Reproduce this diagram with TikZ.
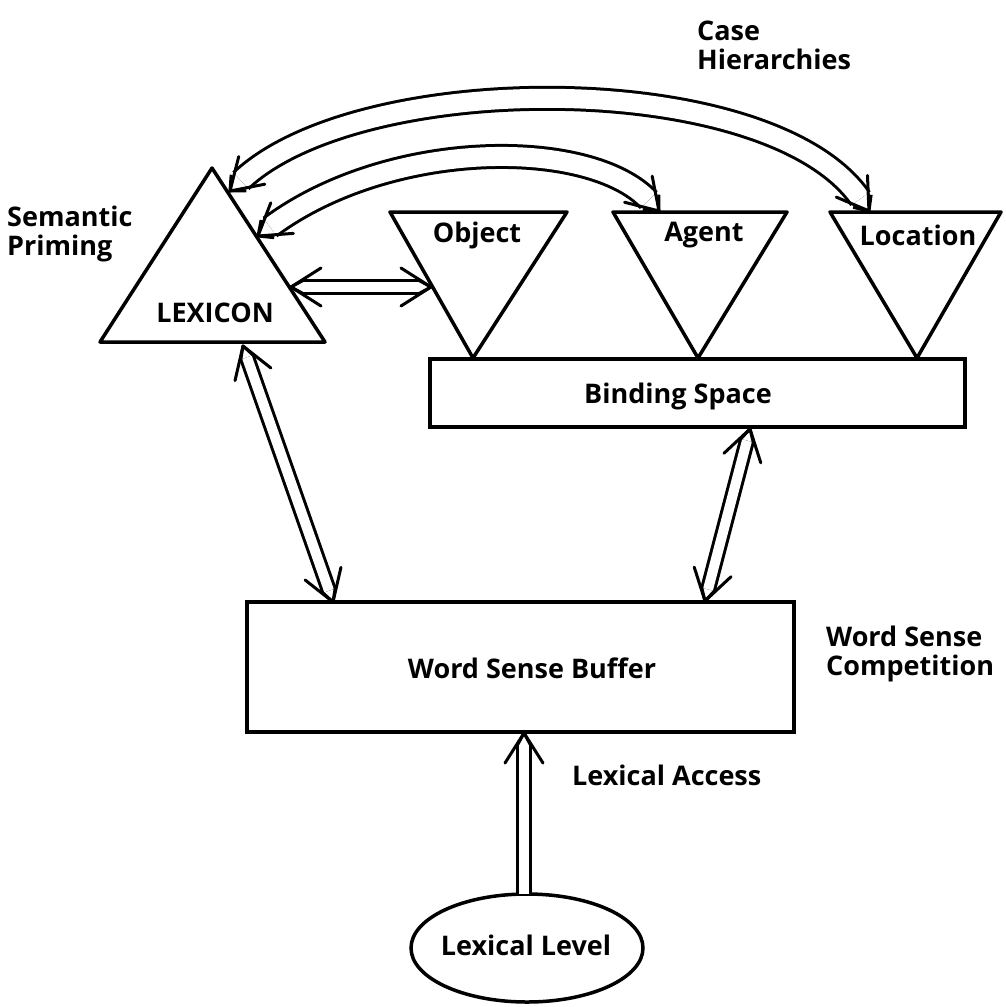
\documentclass[tikz,border=0pt]{standalone}
\usepackage{fontspec}
\setmainfont{Open Sans}
\usetikzlibrary{decorations.markings,shapes.geometric}

% open V head with the two body lines closing in on the tip
\newcommand\arrhead[1]{%
  \draw[line width=3pt, line cap=round, line join=round] (-30pt,19pt) -- (0pt,0pt) -- (-30pt,-19pt);
  \draw[line width=3pt, line join=round] (-12pt,#1) -- (0pt,0pt) -- (-12pt,-#1);}
\newcommand\arrtail[1]{\begin{scope}[xscale=-1]\arrhead{#1}\end{scope}}

\tikzset{
  lbl/.style={font=\fontsize{27}{29}\selectfont\bfseries, inner sep=0pt},
  outline/.style={line width=3.5pt, line join=round},
  box/.style={draw, line width=3.5pt, inner sep=0pt},
  straightbody/.style={line width=3pt, double, double distance=10pt},
  curvebody/.style={line width=3pt, double, double distance=19pt},
  twoheads/.style={decorate, decoration={markings,
      mark=at position 0 with {\arrtail{#1}},
      mark=at position 0.9999 with {\arrhead{#1}}}},
  onehead/.style={decorate, decoration={markings,
      mark=at position 0.9999 with {\arrhead{#1}}}},
}

\begin{document}
\begin{tikzpicture}[x=1pt, y=-1pt]
\useasboundingbox (0,0) rectangle (1005,1007);

% lexicon triangle
\coordinate (lexA) at (212,168);
\coordinate (lexL) at (100,342);
\coordinate (lexR) at (325,342);
\draw[outline] (lexA) -- (lexL) -- (lexR) -- cycle;
\node[lbl] (lexicon) at (215,313) {LEXICON};

% case role triangles
\coordinate (objL) at (390,212);
\coordinate (objR) at (567,212);
\coordinate (objB) at (473,358);
\draw[outline] (objL) -- (objR) -- (objB) -- cycle;
\node[lbl] (object) at (477,235) {Object};

\coordinate (agtL) at (613,212);
\coordinate (agtR) at (787,212);
\coordinate (agtB) at (698,358);
\draw[outline] (agtL) -- (agtR) -- (agtB) -- cycle;
\node[lbl] (agent) at (704,235) {Agent};

\coordinate (locL) at (830,212);
\coordinate (locR) at (1001,212);
\coordinate (locB) at (917,358);
\draw[outline] (locL) -- (locR) -- (locB) -- cycle;
\node[lbl] (location) at (918,235) {Location};

% binding space and word sense buffer
\node[box, minimum width=535pt, minimum height=68pt] (bind) at (697.5,393) {};
\node[lbl] (bindtext) at (678,396) {Binding Space};
\node[box, minimum width=547pt, minimum height=130pt] (wsb) at (520.5,667) {};
\node[lbl] (wsbtext) at (532,668) {Word Sense Buffer};

% lexical level
\node[draw, ellipse, line width=3.5pt, minimum width=232pt, minimum height=108pt, inner sep=0pt] (level) at (527,948) {};
\node[lbl] (leveltext) at (526,945) {Lexical Level};

% side labels
\node[lbl, anchor=north west, align=left] (casehier) at (697,21) {Case\\Hierarchies};
\node[lbl, anchor=north west, align=left] (priming) at (7,206) {Semantic\\Priming};
\node[lbl, anchor=north west, align=left] (compet) at (826,626) {Word Sense\\Competition};
\node[lbl, anchor=west] (access) at (572,775) {Lexical Access};

% connector end points
\coordinate (lexObjA) at (291,287);
\coordinate (lexObjB) at (431,287);
\coordinate (lexWsbA) at (243,346);
\coordinate (lexWsbB) at (333,602);
\coordinate (bindWsbA) at (750,429);
\coordinate (bindWsbB) at (705,601);
\coordinate (accessA) at (524,894);
\coordinate (accessB) at (524,733);
\coordinate (innerA) at (258,236);
\coordinate (innerB) at (659,211);
\coordinate (outerA) at (230,191);
\coordinate (outerB) at (869,211);

% straight double connectors
\draw[straightbody, shorten <=12pt, shorten >=12pt] (lexObjA) -- (lexObjB);
\path[twoheads=6.5pt] (lexObjA) -- (lexObjB);
\draw[straightbody, shorten <=12pt, shorten >=12pt] (lexWsbA) -- (lexWsbB);
\path[twoheads=6.5pt] (lexWsbA) -- (lexWsbB);
\draw[straightbody, shorten <=12pt, shorten >=12pt] (bindWsbA) -- (bindWsbB);
\path[twoheads=6.5pt] (bindWsbA) -- (bindWsbB);
\draw[straightbody, shorten >=12pt] (accessA) -- (accessB);
\path[onehead=6.5pt] (accessA) -- (accessB);

% curved case hierarchy connectors
\draw[curvebody, shorten <=15pt, shorten >=15pt] (innerA) .. controls (390,138) and (590,138) .. (innerB);
\path[twoheads=11pt] (innerA) .. controls (390,138) and (590,138) .. (innerB);
\draw[curvebody, shorten <=15pt, shorten >=15pt] (outerA) .. controls (360,68) and (770,68) .. (outerB);
\path[twoheads=11pt] (outerA) .. controls (360,68) and (770,68) .. (outerB);
\end{tikzpicture}
\end{document}
